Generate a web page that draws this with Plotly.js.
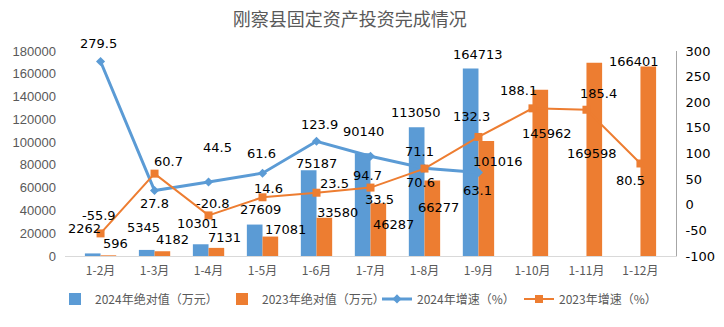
<!DOCTYPE html>
<html><head><meta charset="utf-8">
<script src="https://cdn.plot.ly/plotly-3.0.1.min.js"></script>
<style>html,body{margin:0;padding:0;background:#fff}</style>
</head><body><div id="chart" style="width:724px;height:327px"></div>
<script>
const categories = ['1-2月','1-3月','1-4月','1-5月','1-6月','1-7月','1-8月','1-9月','1-10月','1-11月','1-12月'];
const abs2024 = [2262, 5345, 10301, 27609, 75187, 90140, 113050, 164713, null, null, null];
const abs2023 = [596, 4182, 7131, 17081, 33580, 46287, 66277, 101016, 145962, 169598, 166401];
const growth2024 = [279.5, 27.8, 44.5, 61.6, 123.9, 94.7, 71.1, 63.1, null, null, null];
const growth2023 = [-55.9, 60.7, -20.8, 14.6, 23.5, 33.5, 70.6, 132.3, 188.1, 185.4, 80.5];
const leftTicks = [0,20000,40000,60000,80000,100000,120000,140000,160000,180000];
const rightTicks = [-100,-50,0,50,100,150,200,250,300];

// label offsets in pixels [dx, dy(up)] — styling only
const offAbs2024 = [[-16,25],[-11,22],[-11,21],[-2,15],[0,7],[-7,22],[-8,15],[0,14]];
const offAbs2023 = [[15,12],[18,12],[16,10],[23,7],[21,5],[23,-21],[14,-27],[20,-21],[15,-44],[6,-91],[-6,5]];
const offG2024 = [[-2,18],[0,-13],[9,34],[-1,20],[3,17],[-3,-19],[-5,17],[-1,-18]];
const offG2023 = [[-2,18],[14,12],[4,12],[6,9],[18,9],[9,-12],[-4,-14],[-7,20],[-14,18],[12,16],[-10,-17]];

const BLUE = '#5B9BD5', ORANGE = '#ED7D31', GRAY = '#595959';
const CJK = '"Noto Sans CJK SC", sans-serif';
const NUM = '"DejaVu Sans", sans-serif';

const traces = [
  {type:'bar', name:'2024年绝对值（万元）', x:categories, y:abs2024, marker:{color:BLUE}, yaxis:'y', hoverinfo:'skip', legend:'legend'},
  {type:'bar', name:'2023年绝对值（万元）', x:categories, y:abs2023, marker:{color:ORANGE}, yaxis:'y', hoverinfo:'skip', legend:'legend'},
  {type:'scatter', mode:'lines+markers', name:'2024年增速（%）', x:categories, y:growth2024, yaxis:'y2', legend:'legend2',
   line:{color:BLUE, width:3}, marker:{symbol:'diamond', size:7, color:BLUE}},
  {type:'scatter', mode:'lines+markers', name:'2023年增速（%）', x:categories, y:growth2023, yaxis:'y2', legend:'legend2',
   line:{color:ORANGE, width:2}, marker:{symbol:'square', size:8, color:ORANGE}}
];

const annotations = [];
function addLabels(vals, offs, yref){
  vals.forEach((v,i)=>{
    if (v === null || v === undefined) return;
    const o = offs[i] || [0,12];
    annotations.push({x:categories[i], y:v, xref:'x', yref:yref, text:String(v), showarrow:false,
      xanchor:'center', yanchor:'middle', xshift:o[0], yshift:o[1],
      font:{family:NUM, size:13, color:'#000'}});
  });
}
addLabels(abs2024, offAbs2024, 'y');
addLabels(abs2023, offAbs2023, 'y');
addLabels(growth2024, offG2024, 'y2');
addLabels(growth2023, offG2023, 'y2');

const legendBase = {orientation:'h', xanchor:'left', xref:'container', yref:'container', y:0.086, yanchor:'middle',
  bgcolor:'rgba(0,0,0,0)', entrywidthmode:'pixels', font:{family:CJK, size:12, color:GRAY}, itemwidth:30, tracegroupgap:0};

const layout = {
  width:724, height:327,
  margin:{l:65, r:48, t:51, b:71, autoexpand:false},
  paper_bgcolor:'#fff', plot_bgcolor:'#fff',
  title:{text:'刚察县固定资产投资完成情况', x:0.483, xanchor:'center', y:0.94, yanchor:'middle',
    font:{family:CJK, size:18, color:GRAY}},
  barmode:'group', bargap:0.42, bargroupgap:0,
  showlegend:true,
  legend:Object.assign({}, legendBase, {x:55/724, entrywidth:122}),
  legend2:Object.assign({}, legendBase, {x:377/724, entrywidth:97}),
  xaxis:{type:'category', showline:true, linecolor:'#D9D9D9', linewidth:1, ticks:'', showgrid:false,
    tickfont:{family:CJK, size:12, color:GRAY}, ticklabelstandoff:4},
  yaxis:{range:[0,180000], tickvals:leftTicks, ticktext:leftTicks.map(String), showgrid:false, zeroline:false,
    showline:false, ticks:'', tickfont:{family:'"Liberation Sans", sans-serif', size:13, color:GRAY}, ticklabelstandoff:8},
  yaxis2:{range:[-100,300], tickvals:rightTicks, ticktext:rightTicks.map(String), overlaying:'y', side:'right',
    showgrid:false, zeroline:false, showline:true, linecolor:'#A6A6A6', linewidth:1, ticks:'',
    tickfont:{family:NUM, size:13, color:'#000'}, ticklabelstandoff:6},
  annotations: annotations
};
Plotly.newPlot('chart', traces, layout, {displayModeBar:false, staticPlot:true});
</script></body></html>
